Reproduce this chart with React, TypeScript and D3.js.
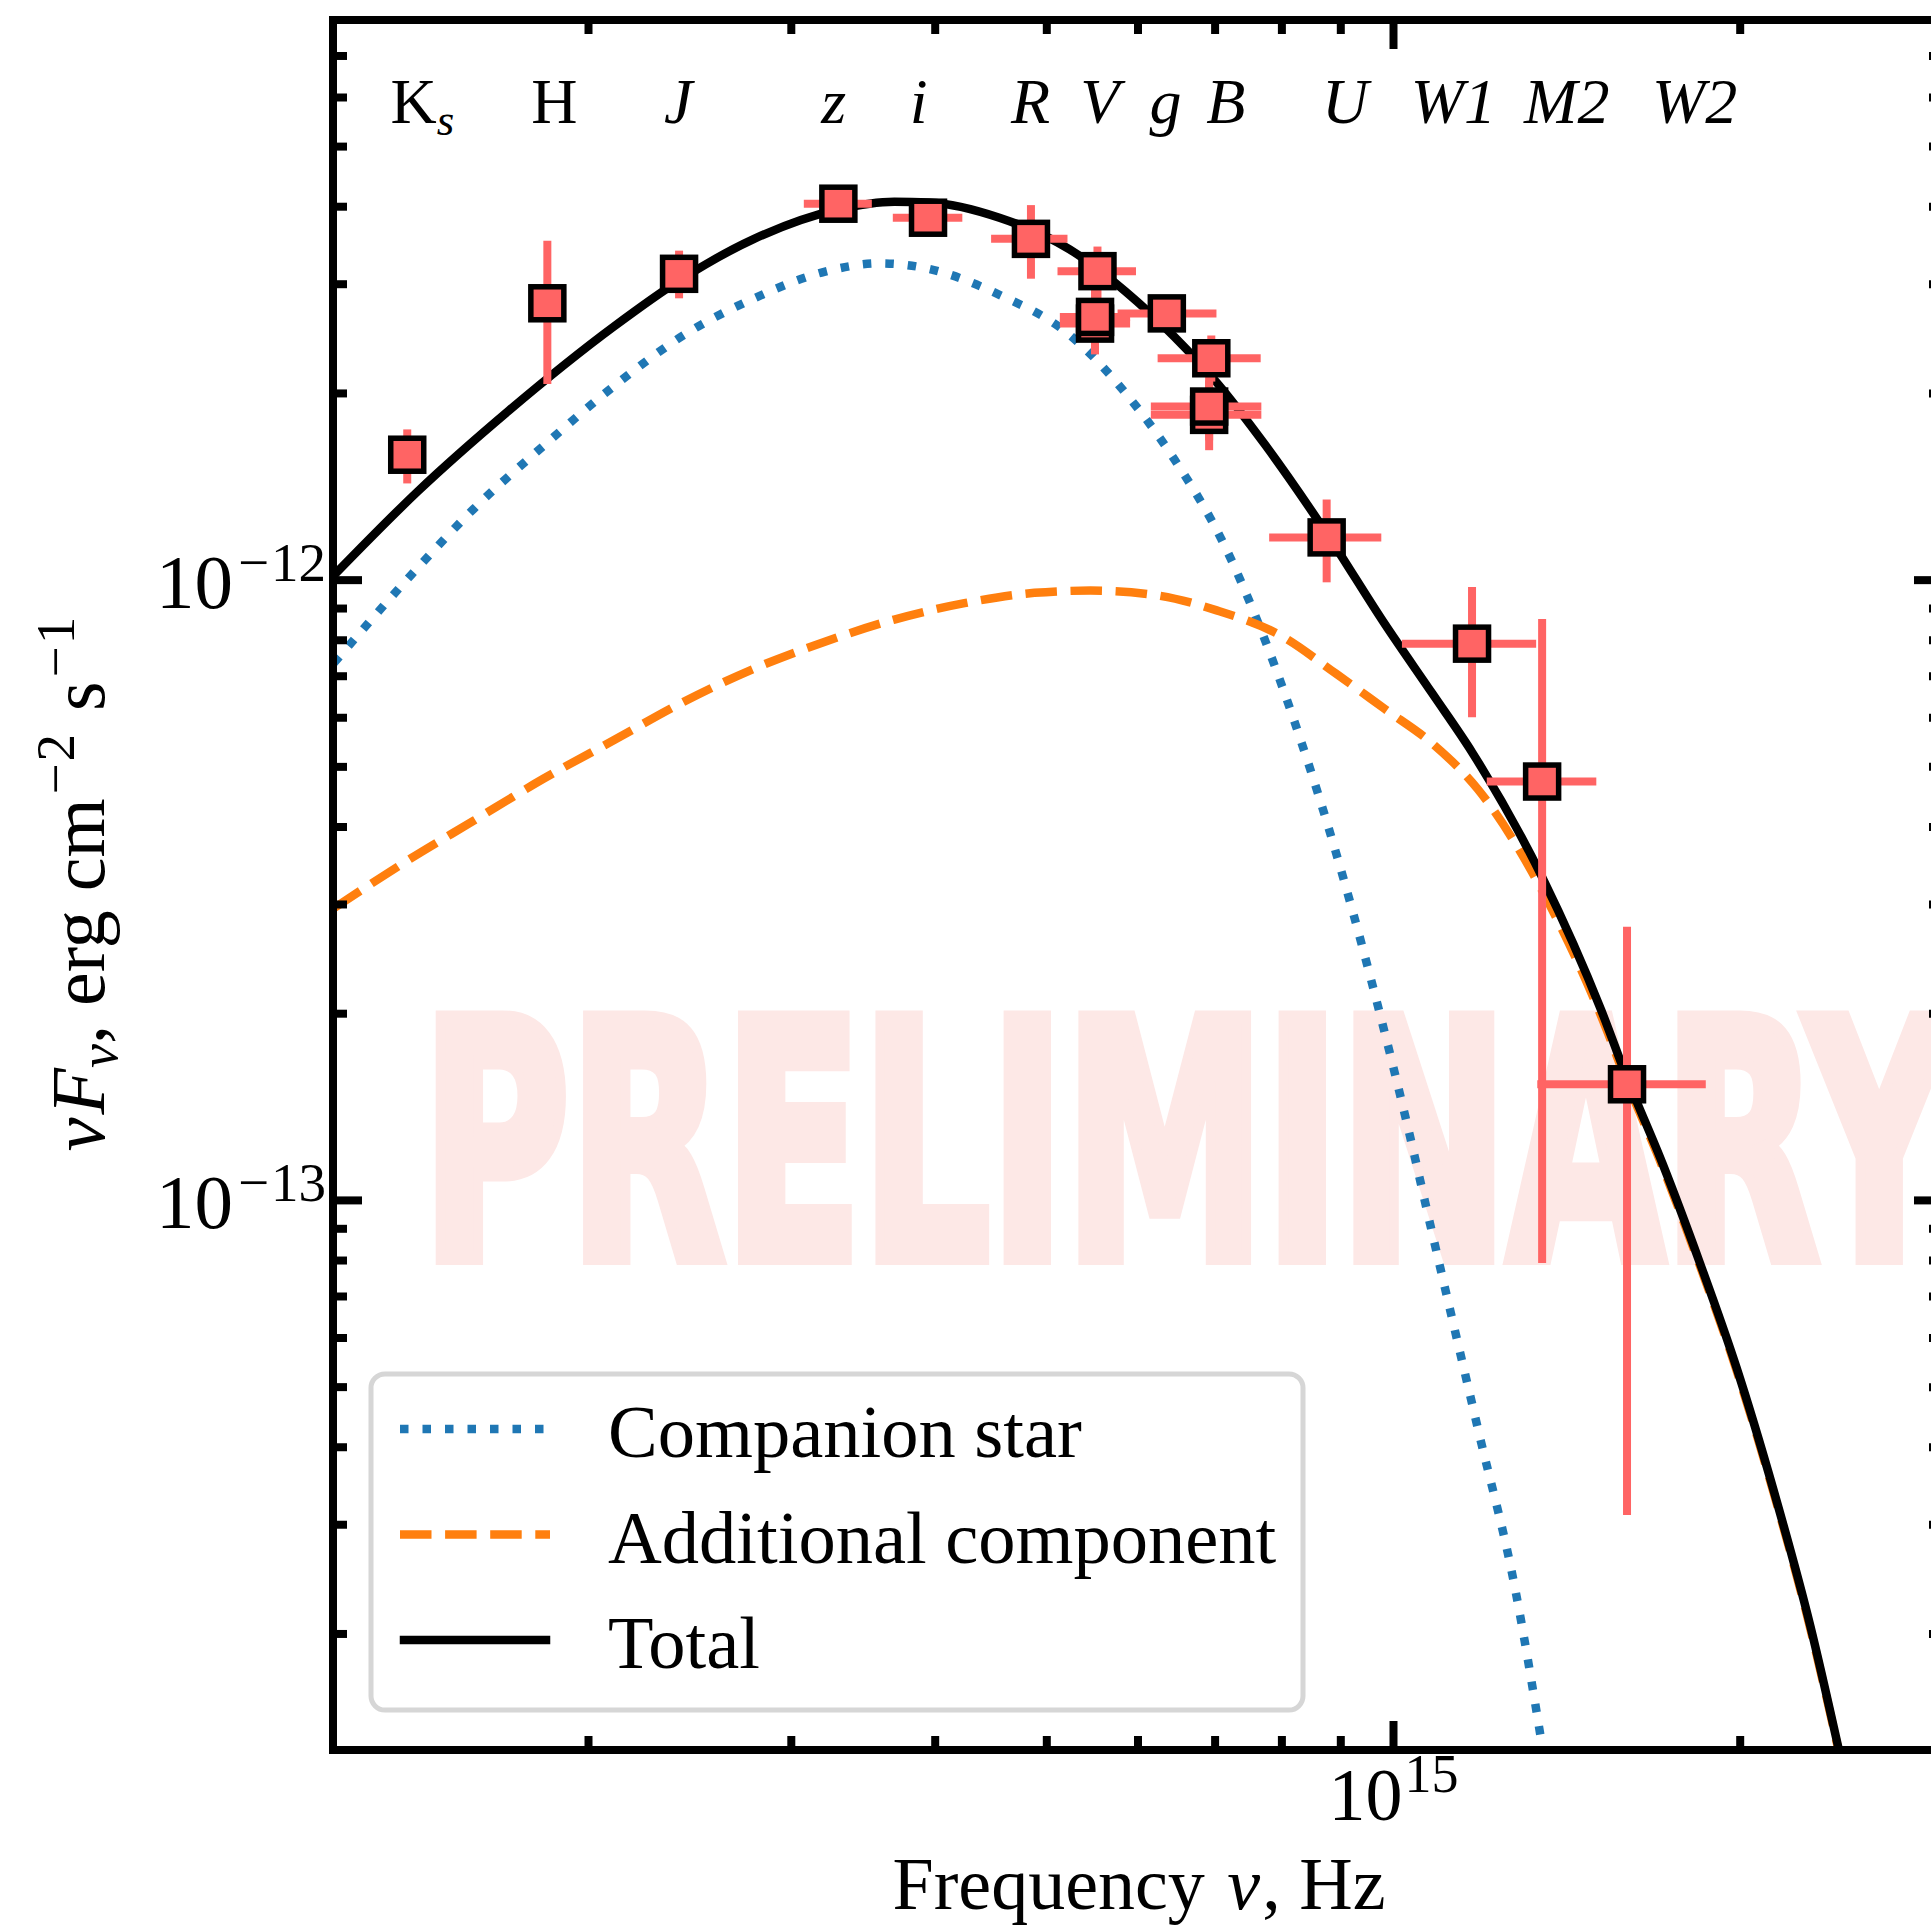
import React from 'react';
import * as d3 from 'd3';

// photometric points: frequency (Hz) and nuF_nu (erg cm^-2 s^-1)
const pointNu = [1.392e14, 1.842e14, 2.397e14, 3.296e14, 3.943e14, 4.844e14, 5.533e14, 5.506e14, 5.506e14, 6.356e14, 6.947e14, 6.917e14, 6.917e14, 8.749e14, 1.17e15, 1.346e15, 1.595e15];
const pointNuLo = [null, null, null, 3.076e14, 3.675e14, 4.473e14, 5.108e14, 5.132e14, 5.132e14, 5.76e14, 6.24e14, 6.156e14, 6.156e14, 7.799e14, 1.017e15, 1.205e15, 1.333e15];
const pointNuHi = [null, null, null, 3.524e14, 4.223e14, 5.211e14, 5.976e14, 5.906e14, 5.906e14, 7.019e14, 7.668e14, 7.678e14, 7.678e14, 9.759e14, 1.33e15, 1.5e15, 1.867e15];
const pointFlux = [1.593e-12, 2.795e-12, 3.118e-12, 4.045e-12, 3.84e-12, 3.55e-12, 3.149e-12, 2.592e-12, 2.657e-12, 2.692e-12, 2.279e-12, 1.847e-12, 1.905e-12, 1.172e-12, 7.9e-13, 4.735e-13, 1.539e-13];
const pointFluxLo = [1.432e-12, 2.072e-12, 2.847e-12, null, null, 3.062e-12, 2.85e-12, 2.312e-12, 2.4e-12, null, 2.09e-12, 1.62e-12, 1.68e-12, 9.92e-13, 6.01e-13, 7.93e-14, 3.11e-14];
const pointFluxHi = [1.75e-12, 3.524e-12, 3.398e-12, null, null, 4.024e-12, 3.45e-12, 2.9e-12, 2.95e-12, null, 2.48e-12, 2.1e-12, 2.15e-12, 1.349e-12, 9.75e-13, 8.66e-13, 2.763e-13];

// band names along the top
const bandLabels = ['K', 'H', 'J', 'z', 'i', 'R', 'V', 'g', 'B', 'U', 'W1', 'M2', 'W2'];
const bandLabelNu = [1.435e14, 1.868e14, 2.393e14, 3.265e14, 3.87e14, 4.84e14, 5.56e14, 6.34e14, 7.15e14, 9.08e14, 1.127e15, 1.414e15, 1.826e15];
const bandItalic = [false, false, true, true, true, true, true, true, true, true, true, true, true];

// model curves
const starNu = [1.202e14, 1.402e14, 1.59e14, 1.829e14, 2.105e14, 2.422e14, 2.785e14, 3.204e14, 3.585e14, 3.954e14, 4.548e14, 5.233e14, 5.852e14, 6.455e14, 7.12e14, 7.745e14, 8.307e14, 8.912e14, 9.555e14, 1.025e15, 1.081e15, 1.184e15, 1.275e15, 1.346e15];
const starFlux = [7.35e-13, 1.018e-12, 1.303e-12, 1.648e-12, 2.056e-12, 2.486e-12, 2.847e-12, 3.141e-12, 3.242e-12, 3.174e-12, 2.884e-12, 2.486e-12, 2.003e-12, 1.564e-12, 1.145e-12, 7.95e-13, 5.52e-13, 3.64e-13, 2.28e-13, 1.354e-13, 8.82e-14, 4.28e-14, 2.37e-14, 1.32e-14];

const extraNu = [1.202e14, 1.383e14, 1.59e14, 1.829e14, 2.105e14, 2.422e14, 2.785e14, 3.204e14, 3.686e14, 4.241e14, 4.878e14, 5.456e14, 6.19e14, 7.022e14, 7.963e14, 8.912e14, 9.826e14, 1.081e15, 1.184e15, 1.346e15, 1.515e15, 1.595e15, 1.713e15, 1.845e15, 1.985e15, 2.138e15, 2.301e15, 2.434e15];
const extraFlux = [2.958e-13, 3.503e-13, 4.095e-13, 4.788e-13, 5.524e-13, 6.373e-13, 7.2e-13, 7.95e-13, 8.64e-13, 9.18e-13, 9.54e-13, 9.62e-13, 9.47e-13, 8.94e-13, 8.16e-13, 7.07e-13, 6.2e-13, 5.45e-13, 4.6e-13, 3.16e-13, 1.98e-13, 1.55e-13, 1.13e-13, 7.85e-14, 5.33e-14, 3.38e-14, 2.04e-14, 1.3e-14];

const totalNu = [1.202e14, 1.422e14, 1.706e14, 2.105e14, 2.397e14, 2.785e14, 3.296e14, 3.686e14, 3.954e14, 4.548e14, 5.233e14, 5.852e14, 6.455e14, 7.022e14, 7.745e14, 8.749e14, 9.826e14, 1.081e15, 1.17e15, 1.346e15, 1.515e15, 1.595e15, 1.713e15, 1.845e15, 1.985e15, 2.138e15, 2.301e15, 2.434e15];
const totalFlux = [1.018e-12, 1.391e-12, 1.877e-12, 2.565e-12, 3.04e-12, 3.55e-12, 3.961e-12, 4.075e-12, 4.064e-12, 3.84e-12, 3.415e-12, 2.92e-12, 2.466e-12, 2.083e-12, 1.648e-12, 1.19e-12, 8.5e-13, 6.56e-13, 5.28e-13, 3.32e-13, 2.025e-13, 1.575e-13, 1.144e-13, 7.93e-14, 5.38e-14, 3.41e-14, 2.06e-14, 1.31e-14];

const legendLabels = ['Companion star', 'Additional component', 'Total'];

const W = 1931;
const H = 1928;
const m = { left: 333, right: 1943, top: 20, bottom: 1750 };
const serif = "'Liberation Serif', 'Times New Roman', serif";
const red = '#ff6464';
const blue = '#1f77b4';
const orange = '#ff7f0e';

const x = d3.scaleLog().domain([1.2e14, 3e15]).range([m.left, m.right]);
const y = d3.scaleLog().domain([1.3e-14, 8e-12]).range([m.bottom, m.top]);

const line = d3.line<[number, number]>()
  .x((d) => x(d[0]))
  .y((d) => y(d[1]))
  .curve(d3.curveMonotoneX);

const isMajor = (v: number) => Math.abs(Math.log10(v) - Math.round(Math.log10(v))) < 1e-6;

const App: React.FC = () => {
  const xTicks = x.ticks();
  const yTicks = y.ticks();
  const idx = d3.range(pointNu.length);

  const curves = [
    { nu: starNu, f: starFlux, color: blue, dash: '8.5 14' },
    { nu: extraNu, f: extraFlux, color: orange, dash: '31.5 13.6' },
    { nu: totalNu, f: totalFlux, color: '#000', dash: null },
  ];

  return (
    <svg width={W} height={H} style={{ position: 'absolute', left: 0, top: 0, background: '#fff' }}>
      <defs>
        <clipPath id="plotArea">
          <rect x={m.left} y={m.top} width={m.right - m.left} height={m.bottom - m.top} />
        </clipPath>
      </defs>
      <rect width={W} height={H} fill="#fff" />

      {/* watermark */}
      <text x={422} y={1258} fontSize={330} fontWeight={900} fill="#fde8e6" stroke="#fde8e6" strokeWidth={14}
        strokeLinejoin="miter"
        fontFamily="'DejaVu Sans Condensed', 'Liberation Sans Narrow', 'DejaVu Sans', sans-serif"
        textLength={1530} lengthAdjust="spacingAndGlyphs">PRELIMINARY</text>

      {/* model curves */}
      <g clipPath="url(#plotArea)" fill="none">
        {curves.map((c, k) => (
          <path key={k} d={line(d3.zip(c.nu, c.f) as [number, number][]) || ''}
            stroke={c.color} strokeWidth={8.5} strokeDasharray={c.dash || undefined} />
        ))}
      </g>

      {/* error bars */}
      <g clipPath="url(#plotArea)" stroke={red} strokeWidth={8}>
        {idx.map((i) => (
          <g key={i}>
            {pointNuLo[i] != null && (
              <line x1={x(pointNuLo[i] as number)} x2={x(pointNuHi[i] as number)} y1={y(pointFlux[i])} y2={y(pointFlux[i])} />
            )}
            {pointFluxLo[i] != null && (
              <line x1={x(pointNu[i])} x2={x(pointNu[i])} y1={y(pointFluxLo[i] as number)} y2={y(pointFluxHi[i] as number)} />
            )}
          </g>
        ))}
      </g>

      {/* markers */}
      <g fill={red} stroke="#000" strokeWidth={5.5}>
        {idx.map((i) => (
          <rect key={i} x={x(pointNu[i]) - 16.5} y={y(pointFlux[i]) - 16.5} width={33} height={33} />
        ))}
      </g>

      {/* spines */}
      <rect x={m.left} y={m.top} width={m.right - m.left} height={m.bottom - m.top} fill="none" stroke="#000" strokeWidth={8} />

      {/* ticks, pointing inward on all sides */}
      <g stroke="#000" strokeWidth={8}>
        {xTicks.map((t, k) => {
          const len = isMajor(t) ? 29 : 14;
          return (
            <g key={k}>
              <line x1={x(t)} x2={x(t)} y1={m.bottom} y2={m.bottom - len} />
              <line x1={x(t)} x2={x(t)} y1={m.top} y2={m.top + len} />
            </g>
          );
        })}
        {yTicks.map((t, k) => {
          const len = isMajor(t) ? 29 : 14;
          return (
            <g key={k}>
              <line x1={m.left} x2={m.left + len} y1={y(t)} y2={y(t)} />
              <line x1={m.right} x2={m.right - len} y1={y(t)} y2={y(t)} />
            </g>
          );
        })}
      </g>

      {/* tick labels */}
      <g fontFamily={serif} fill="#000">
        {yTicks.filter(isMajor).map((t, k) => (
          <text key={k} x={326} y={y(t) + 28} fontSize={77} textAnchor="end">
            10<tspan fontSize={55} dx={5} dy={-27}>{'\u2212'}</tspan><tspan fontSize={55} dx={2}>{Math.round(-Math.log10(t))}</tspan>
          </text>
        ))}
        {xTicks.filter(isMajor).map((t, k) => (
          <text key={k} x={x(t)} y={1820} fontSize={74} textAnchor="middle">
            10<tspan fontSize={54} dx={2} dy={-28}>{Math.round(Math.log10(t))}</tspan>
          </text>
        ))}
      </g>

      {/* band labels */}
      <g fontFamily={serif} fontSize={64} fill="#000">
        {bandLabels.map((b, k) => (
          <text key={k} x={x(bandLabelNu[k])} y={123} textAnchor="middle" fontStyle={bandItalic[k] ? 'italic' : 'normal'}>
            {b}
            {k === 0 && <tspan fontStyle="italic" fontSize={45} dy={12}>s</tspan>}
          </text>
        ))}
      </g>

      {/* axis titles */}
      <text x={1139} y={1909} fontFamily={serif} fontSize={74} textAnchor="middle">
        Frequency <tspan fontStyle="italic" dx={4}>ν</tspan><tspan dx={2}>, Hz</tspan>
      </text>
      <text transform="translate(104,884) rotate(-90)" fontFamily={serif} fontSize={76} textAnchor="middle">
        <tspan fontStyle="italic">ν</tspan>
        <tspan fontStyle="italic" dx={3}>F</tspan>
        <tspan fontStyle="italic" fontSize={54} dy={13}>ν</tspan>
        <tspan dy={-13}>, erg cm</tspan>
        <tspan fontSize={55} dx={4} dy={-30}>{'\u2212'}</tspan>
        <tspan fontSize={55} dx={2}>2</tspan>
        <tspan dx={4} dy={30}>{' s'}</tspan>
        <tspan fontSize={55} dx={4} dy={-30}>{'\u2212'}</tspan>
        <tspan fontSize={55} dx={2}>1</tspan>
      </text>

      {/* legend */}
      <g>
        <rect x={371} y={1374} width={932} height={336} rx={14} fill="#fff" stroke="#d6d6d6" strokeWidth={5} />
        {curves.map((c, k) => {
          const ly = 1429 + k * 105.5;
          return (
            <g key={k}>
              <line x1={c.dash ? 400 : 404} x2={c.dash ? 550 : 546} y1={ly} y2={ly} stroke={c.color} strokeWidth={8.5}
                strokeDasharray={c.dash || undefined} strokeLinecap={c.dash ? 'butt' : 'square'} />
              <text x={608} y={ly + 28} fontFamily={serif} fontSize={74.5}>{legendLabels[k]}</text>
            </g>
          );
        })}
      </g>
    </svg>
  );
};

export default App;
